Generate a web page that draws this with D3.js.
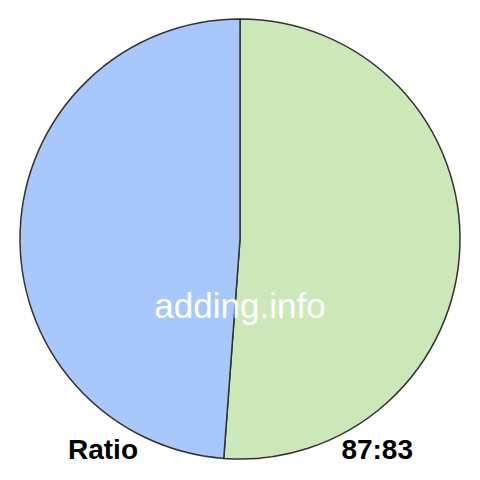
<!DOCTYPE html>
<html><head><meta charset="utf-8">
<script src="https://cdn.jsdelivr.net/npm/d3@7"></script>
<style>body{margin:0;background:#fff}svg{display:block}</style>
</head><body>
<svg id="c" width="480" height="480"></svg>
<script>
const categories = ["A", "B"];
const values = [87, 83];
const colors = ["#cde8b8", "#a8c7fa"];
const label = "Ratio";
const ratioText = values.join(":");
const watermark = "adding.info";

const svg = d3.select("#c");
const cx = 240, cy = 239, r = 220;
const pie = d3.pie().sort(null).value(d => d)(values);
const arc = d3.arc().innerRadius(0).outerRadius(r);
const g = svg.append("g").attr("transform", `translate(${cx},${cy})`);
g.selectAll("path").data(pie).join("path")
  .attr("d", arc)
  .attr("fill", (d, i) => colors[i])
  .attr("stroke", "#333")
  .attr("stroke-width", 1.5)
  .attr("stroke-linejoin", "round");

svg.append("text").attr("x", 240).attr("y", 318).attr("text-anchor", "middle")
  .attr("font-family", "Liberation Sans, Arial, sans-serif").attr("font-size", 35)
  .attr("fill", "#fff").text(watermark);
svg.append("text").attr("x", 68).attr("y", 459)
  .attr("font-family", "Liberation Sans, Arial, sans-serif").attr("font-size", 28).attr("font-weight", "bold")
  .attr("fill", "#000").text(label);
svg.append("text").attr("x", 413).attr("y", 459).attr("text-anchor", "end")
  .attr("font-family", "Liberation Sans, Arial, sans-serif").attr("font-size", 28).attr("font-weight", "bold")
  .attr("fill", "#000").text(ratioText);
</script>
</body></html>
